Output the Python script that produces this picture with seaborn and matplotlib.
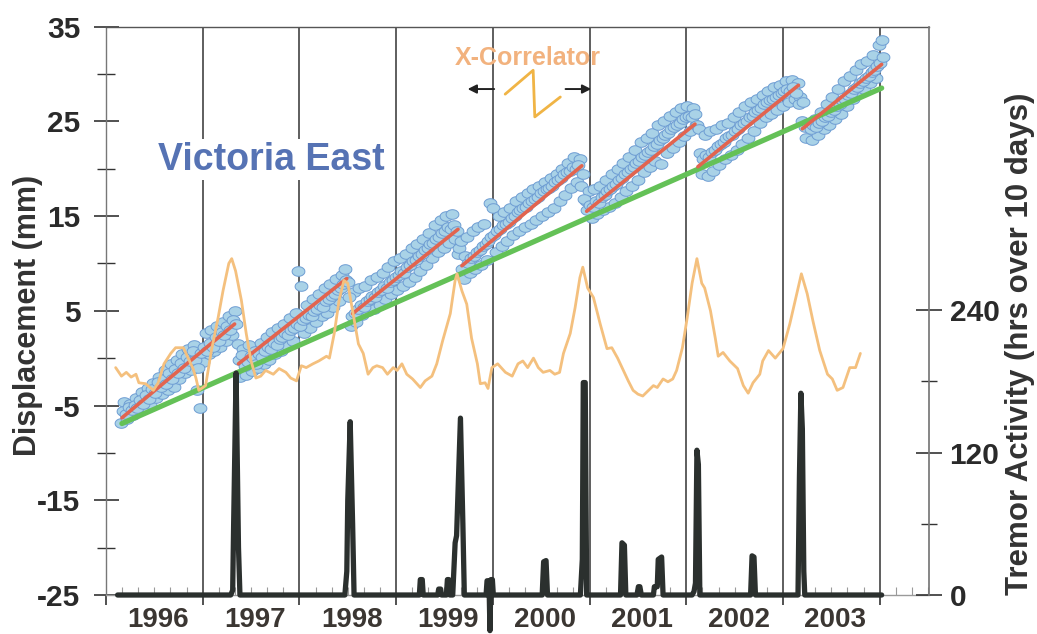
import numpy as np
import pandas as pd
import seaborn as sns
import matplotlib.pyplot as plt
from matplotlib import font_manager
from matplotlib.ticker import FixedLocator, MultipleLocator

# GPS displacement (mm), one list per inter-event period, evenly sampled in time
gps_start = [1996.16, 1997.36, 1998.50, 1999.67, 2000.93, 2002.13, 2003.21]
gps_end = [1997.33, 1998.47, 1999.64, 2000.90, 2002.10, 2003.18, 2004.02]
# readings along the upper and lower edges of the band
gps_values = [
    [-6.8, -4.6, -6.4, -4.8, -6.0, -4.2, -5.6, -3.6, -5.2, -3.2,
     -4.8, -2.6, -4.2, -2.0, -3.8, -1.2, -3.4, -0.6, -3.0, -0.2,
     -2.2, 0.4, -1.6, 1.0, -1.2, 1.4, -3.4, -5.3, -0.4, 2.6,
     0.4, 3.0, 0.8, 3.4, 1.2, 3.8, 1.8, 4.4, 2.4, 5.0],
    [1.5, -2.0, 1.0, -1.8, 1.4, -1.4, 0.8, -1.0, 1.6, -0.6,
     2.2, -0.2, 2.8, 0.4, 3.2, 0.8, 3.6, 1.4, 4.2, 1.8,
     4.8, 9.2, 7.6, 2.6, 5.6, 3.2, 6.2, 3.8, 6.8, 4.4,
     7.4, 4.8, 7.8, 5.4, 8.4, 6.0, 8.8, 9.4],
    [8.0, 3.4, 7.0, 3.8, 7.4, 4.6, 7.6, 5.0, 8.2, 5.2,
     8.6, 5.6, 9.0, 6.2, 9.6, 6.8, 10.2, 7.2, 10.6, 7.6,
     11.0, 8.0, 11.6, 8.6, 12.0, 9.2, 12.6, 9.8, 13.2, 10.6,
     14.0, 11.2, 14.6, 11.6, 15.0, 12.2, 15.2, 12.6, 11.0],
    [12.4, 8.4, 12.8, 9.0, 13.4, 9.4, 13.8, 9.8, 14.2, 10.4,
     16.4, 15.8, 11.2, 15.0, 11.8, 15.4, 12.4, 15.8, 13.0, 16.6,
     13.4, 17.0, 13.8, 17.4, 14.2, 17.8, 14.6, 18.2, 15.0, 18.6,
     15.4, 19.0, 15.8, 19.4, 16.6, 20.0, 17.2, 20.6, 18.0, 21.2, 18.6, 21.0],
    [19.4, 16.6, 17.6, 14.8, 17.8, 15.2, 18.2, 15.6, 18.8, 16.0,
     19.4, 16.4, 20.0, 17.0, 20.6, 17.6, 21.2, 18.2, 22.0, 18.8,
     22.8, 19.6, 23.2, 20.2, 23.8, 20.8, 24.6, 20.5, 25.0, 21.6,
     25.6, 22.2, 26.0, 22.8, 26.4, 23.4, 26.6, 24.0, 26.4, 24.6],
    [24.2, 19.4, 23.6, 19.2, 24.0, 19.8, 24.2, 20.4, 24.6, 21.0,
     24.8, 21.4, 25.4, 22.0, 26.0, 22.6, 26.6, 23.2, 27.0, 24.0,
     27.4, 24.8, 27.8, 25.4, 28.2, 25.8, 28.6, 26.2, 28.8, 26.6,
     29.2, 27.0, 29.4, 27.4, 29.0, 27.6],
    [27.0, 23.2, 24.8, 23.0, 25.2, 23.6, 26.0, 24.2, 26.8, 24.6,
     27.6, 25.2, 28.4, 25.8, 29.2, 26.6, 29.8, 27.4, 30.4, 28.0,
     31.0, 28.4, 31.4, 29.0, 32.0, 29.6, 33.0, 33.6],
]
# second pass of readings through the middle of the band (sampled half a step later)
gps_values_mid = [
    [-5.6, -5.9, -5.2, -5.5, -4.9, -5.3, -4.4, -4.8, -3.9, -4.3,
     -3.3, -3.7, -2.5, -3.0, -2.2, -2.7, -1.6, -2.2, -1.1, -1.6,
     -0.5, -1.0, 0.1, -0.3, 0.7, -0.2, -1.0, 0.5, 1.2, 0.8,
     1.6, 1.2, 2.2, 1.8, 2.8, 2.4, 3.4, 3.0, 4.0, 3.6],
    [-0.2, 0.3, -0.8, -0.4, 0.2, 0.0, -0.6, 0.4, 0.1, 0.8,
     1.2, 1.0, 1.6, 1.4, 2.0, 2.2, 2.6, 2.4, 3.0, 3.2,
     3.6, 3.4, 4.0, 4.2, 4.6, 4.4, 5.0, 5.2, 5.6, 5.4,
     6.0, 6.2, 6.6, 6.8, 7.2, 7.4, 7.8, 8.2],
    [6.4, 4.4, 4.8, 5.2, 5.6, 5.4, 6.0, 6.2, 6.6, 6.4,
     7.0, 7.2, 7.6, 7.4, 8.0, 8.2, 8.6, 8.8, 9.2, 9.0,
     9.6, 9.8, 10.2, 10.4, 10.8, 11.0, 11.4, 11.6, 12.0, 12.2,
     12.6, 12.8, 13.2, 13.4, 13.8, 13.6, 14.0, 13.4, 11.6],
    [9.4, 10.8, 10.0, 10.6, 10.8, 11.2, 11.4, 11.8, 12.0, 12.4,
     12.8, 13.0, 13.4, 13.6, 14.0, 14.2, 14.4, 14.8, 15.0, 15.4,
     15.6, 15.8, 16.0, 16.4, 16.6, 16.8, 17.0, 17.4, 17.6, 17.8,
     18.0, 18.2, 18.6, 18.8, 19.0, 19.4, 19.6, 19.8, 20.2, 20.0, 20.4, 18.2],
    [16.8, 15.6, 16.2, 16.0, 16.6, 16.4, 17.0, 17.2, 17.6, 17.8,
     18.2, 18.4, 18.8, 19.0, 19.4, 19.6, 20.0, 20.2, 20.6, 20.8,
     21.2, 21.4, 21.8, 22.0, 22.4, 22.6, 23.0, 23.2, 23.6, 23.8,
     24.2, 24.4, 24.6, 24.8, 25.2, 25.4, 25.6, 25.4, 25.8, 24.6],
    [21.6, 21.0, 21.4, 21.2, 21.8, 22.0, 22.4, 22.6, 22.8, 23.2,
     23.4, 23.6, 24.0, 24.2, 24.6, 24.8, 25.0, 25.4, 25.6, 26.0,
     26.2, 26.4, 26.8, 27.0, 27.2, 27.4, 27.6, 27.8, 28.0, 28.2,
     28.4, 28.2, 28.6, 28.0, 26.8, 25.0],
    [24.4, 24.8, 24.2, 24.6, 24.4, 24.8, 25.0, 25.4, 25.6, 26.0,
     26.2, 26.6, 26.8, 27.2, 27.4, 27.8, 28.0, 28.4, 28.6, 29.0,
     29.2, 29.6, 29.8, 30.2, 30.4, 30.8, 31.2, 31.8],
]

# inter-event trend lines (red) and long-term trend (green)
red_start_yr = [1996.165, 1997.37, 1998.55, 1999.68, 2000.97, 2002.12, 2003.20]
red_start_mm = [-6.3, -0.6, 4.7, 9.75, 15.5, 20.2, 24.2]
red_end_yr = [1997.33, 1998.49, 1999.64, 2000.92, 2002.09, 2003.16, 2004.02]
red_end_mm = [3.6, 8.4, 13.6, 20.3, 24.7, 28.8, 31.0]
green_yr = [1996.165, 2004.02]
green_mm = [-6.9, 28.5]

# X-correlator curve (no own axis, read in displacement units)
xcor_yr = [1996.10, 1996.16, 1996.21, 1996.26, 1996.31, 1996.34, 1996.41, 1996.49, 1996.54, 1996.60,
           1996.67, 1996.72, 1996.80, 1996.85, 1996.90, 1996.93, 1996.96, 1997.03, 1997.09, 1997.16,
           1997.21, 1997.27, 1997.30, 1997.34, 1997.40, 1997.45, 1997.50, 1997.55, 1997.60, 1997.65,
           1997.73, 1997.79, 1997.86, 1997.91, 1997.97, 1998.02, 1998.07, 1998.14, 1998.20, 1998.28,
           1998.31, 1998.36, 1998.41, 1998.46, 1998.50, 1998.55, 1998.61, 1998.66, 1998.71, 1998.76,
           1998.80, 1998.86, 1998.91, 1998.97, 1999.01, 1999.06, 1999.11, 1999.17, 1999.25, 1999.30,
           1999.37, 1999.42, 1999.48, 1999.56, 1999.61, 1999.63, 1999.68, 1999.73, 1999.78, 1999.84,
           1999.87, 1999.92, 1999.95, 1999.99, 2000.05, 2000.13, 2000.20, 2000.26, 2000.31, 2000.36,
           2000.42, 2000.47, 2000.52, 2000.59, 2000.64, 2000.69, 2000.73, 2000.80, 2000.85, 2000.90,
           2000.93, 2000.98, 2001.04, 2001.11, 2001.18, 2001.23, 2001.29, 2001.35, 2001.40, 2001.45,
           2001.50, 2001.55, 2001.61, 2001.66, 2001.70, 2001.76, 2001.81, 2001.86, 2001.90, 2001.96,
           2002.01, 2002.06, 2002.11, 2002.16, 2002.19, 2002.25, 2002.30, 2002.33, 2002.38, 2002.45,
           2002.53, 2002.59, 2002.64, 2002.69, 2002.76, 2002.79, 2002.85, 2002.92, 2003.00, 2003.07,
           2003.15, 2003.19, 2003.25, 2003.31, 2003.38, 2003.46, 2003.51, 2003.56, 2003.62, 2003.69,
           2003.75, 2003.80]
xcor_mm = [-1.0, -1.9, -1.5, -2.0, -1.7, -2.6, -2.7, -3.4, -2.6, -0.6,
           0.5, 1.1, 1.1, 0.0, -1.1, -2.1, -3.4, -2.9, 0.8, 4.3,
           7.1, 10.0, 10.5, 9.2, 6.1, 2.6, -0.3, -2.1, -1.9, -1.3,
           -1.7, -1.1, -1.5, -2.1, -2.4, -0.8, -1.0, -0.6, -0.3, 0.2,
           0.0, 2.6, 6.1, 8.2, 7.9, 5.0, 1.5, 0.5, -1.7, -1.0,
           -0.8, -1.0, -1.7, -1.0, -1.3, -0.6, -1.7, -2.2, -3.1, -2.4,
           -1.9, -0.6, 1.8, 4.7, 8.2, 8.9, 7.1, 5.7, 2.1, -0.6,
           -2.7, -2.6, -3.2, -1.0, -0.6, -1.5, -1.9, -0.6, -0.3, -1.0,
           0.0, -1.0, -1.5, -1.3, -1.7, -1.5, 0.5, 2.6, 5.3, 8.5,
           9.6, 7.4, 6.4, 3.6, 1.0, 1.1, 0.0, -1.3, -2.4, -3.4,
           -3.8, -4.0, -3.4, -2.9, -3.1, -2.2, -2.5, -2.2, -1.3, 1.1,
           4.3, 7.9, 10.5, 7.9, 7.4, 5.0, 2.1, 0.2, 0.6, -0.3,
           -1.1, -2.9, -3.7, -2.6, -1.7, -0.3, 0.8, 0.0, 1.0, 3.6,
           7.1, 8.9, 6.8, 3.9, 0.8, -1.7, -2.2, -3.4, -3.1, -1.0,
           -1.0, 0.5]

# tremor activity (hrs over 10 days)
tremor_yr = [1996.12, 1997.29, 1997.31, 1997.32, 1997.345, 1997.37, 1997.385,
             1998.47, 1998.49, 1998.50, 1998.525, 1998.55, 1998.565,
             1999.24, 1999.25, 1999.27, 1999.28, 1999.43, 1999.44, 1999.46, 1999.47,
             1999.52, 1999.53, 1999.545, 1999.555, 1999.585, 1999.61, 1999.625, 1999.665, 1999.69, 1999.705,
             1999.93, 1999.94, 1999.96, 1999.97, 1999.98, 1999.995, 2000.005,
             2000.51, 2000.525, 2000.55, 2000.565,
             2000.905, 2000.925, 2000.935, 2000.955, 2000.97,
             2001.32, 2001.335, 2001.36, 2001.375, 2001.49, 2001.505, 2001.52, 2001.535,
             2001.66, 2001.67, 2001.70, 2001.71, 2001.745, 2001.76,
             2002.06, 2002.08, 2002.095, 2002.11, 2002.125, 2002.14,
             2002.665, 2002.68, 2002.70, 2002.715,
             2003.155, 2003.17, 2003.185, 2003.20, 2003.215, 2003.225, 2004.02]
tremor_hrs = [0, 0, 4, 60, 187, 40, 0,
              0, 20, 80, 146, 60, 0,
              0, 13, 13, 0, 0, 5, 5, 0,
              0, 13, 13, 0, 0, 44, 50, 149, 60, 0,
              0, 12, 12, -30, 13, 13, 0,
              0, 28, 29, 0,
              0, 30, 179, 179, 0,
              0, 44, 42, 0, 0, 7, 7, 0,
              0, 7, 7, 30, 32, 0,
              0, 3, 10, 122, 110, 0,
              0, 33, 32, 0,
              0, 100, 170, 140, 20, 0, 0]

year_labels = ['1996', '1997', '1998', '1999', '2000', '2001', '2002', '2003']

sns.set_theme(style='white')
plt.rcParams['font.family'] = ['Liberation Sans', 'DejaVu Sans']
plt.rcParams['font.weight'] = 'bold'
plt.rcParams['axes.unicode_minus'] = False

names = {f.name for f in font_manager.fontManager.ttflist}
narrow = 'Liberation Sans Narrow' in names
year_font = ['Liberation Sans Narrow', 'DejaVu Sans'] if narrow else ['Liberation Sans', 'DejaVu Sans']
year_size = 23 if narrow else 20

fig = plt.figure(figsize=(10.37, 6.34), dpi=100)
ax = fig.add_axes([0.1022, 0.0615, 0.7937, 0.8967])

frames = []
for s, e, v, vm in zip(gps_start, gps_end, gps_values, gps_values_mid):
    frames.append(pd.DataFrame({'year': np.linspace(s, e, len(v)), 'mm': v}))
    frames.append(pd.DataFrame({'year': np.linspace(s, e, len(vm)) + 0.015, 'mm': vm}))
gps = pd.concat(frames)
t = np.linspace(0, 2 * np.pi, 40)
ellipse = np.column_stack([np.cos(t), 0.75 * np.sin(t)])
sns.scatterplot(data=gps, x='year', y='mm', marker=ellipse, s=85, color='#a9d2e7',
                edgecolor='#6e9dd3', linewidth=0.7, zorder=2, ax=ax)

sns.lineplot(x=green_yr, y=green_mm, color='#64c157', lw=3.8, zorder=3, ax=ax)

red = pd.DataFrame({'year': red_start_yr + red_end_yr, 'mm': red_start_mm + red_end_mm,
                    'seg': list(range(7)) * 2})
sns.lineplot(data=red, x='year', y='mm', units='seg', estimator=None, sort=False,
             color='#e2644f', lw=2.6, zorder=4, ax=ax)

sns.lineplot(x=xcor_yr, y=xcor_mm, sort=False, estimator=None, color='#f4c07e',
             lw=2.0, zorder=5, ax=ax)

ax.set_xlim(1996.0, 2004.51)
ax.set_ylim(-25, 35)
ax.set_xlabel('')
ax.set_ylabel('')

ax.xaxis.set_major_locator(FixedLocator(list(range(1996, 2005))))
ax.xaxis.set_minor_locator(MultipleLocator(1 / 6))
ax.set_xticklabels([])
ax.tick_params(axis='x', which='major', direction='out', length=7.5, width=1.2,
               color='#333333', bottom=True)
ax.tick_params(axis='x', which='minor', direction='in', length=5.5, width=0.8,
               color='#9a9a9a', bottom=True)
ax.grid(axis='x', which='major', color='#333333', lw=1.1)
ax.grid(axis='y', visible=False)
ax.set_axisbelow(True)

ax.yaxis.set_major_locator(FixedLocator([-25, -15, -5, 5, 15, 25, 35]))
ax.yaxis.set_minor_locator(FixedLocator([-20, -10, 0, 10, 20, 30]))
ax.tick_params(axis='y', which='major', direction='inout', length=18, width=1.2,
               color='#333333', left=True, labelsize=21.5, pad=9.5, labelcolor='#2a2a2a')
ax.tick_params(axis='y', which='minor', direction='inout', length=13, width=1.0,
               color='#333333', left=True)

for side, col in [('left', '#777777'), ('top', '#555555'), ('bottom', '#9a9a9a')]:
    ax.spines[side].set_color(col)
    ax.spines[side].set_linewidth(1.0)
ax.spines['right'].set_visible(False)

for yr, lab in zip(range(1996, 2004), year_labels):
    ax.text(yr + 0.54, -0.044, lab, transform=ax.get_xaxis_transform(), ha='center', va='center',
            fontsize=year_size, family=year_font, fontweight='bold', color='#3b3632')

ax.text(0.063, 0.748, 'Victoria East', transform=ax.transAxes, fontsize=27, fontweight='bold',
        color='#5673b4', va='baseline', ha='left', zorder=6,
        bbox=dict(facecolor='white', edgecolor='none', pad=2))
ax.text(0.513, 0.932, 'X-Correlator', transform=ax.transAxes, fontsize=18, fontweight='bold',
        color='#f2b27e', va='baseline', ha='center', zorder=6)
ax.annotate('', xy=(0.436, 0.890), xytext=(0.475, 0.890), xycoords='axes fraction',
            arrowprops=dict(arrowstyle='-|>', color='#222222', lw=1.4, mutation_scale=13))
ax.annotate('', xy=(0.593, 0.890), xytext=(0.555, 0.890), xycoords='axes fraction',
            arrowprops=dict(arrowstyle='-|>', color='#222222', lw=1.4, mutation_scale=13))
ax.plot([0.485, 0.519, 0.521, 0.552], [0.881, 0.923, 0.841, 0.876], transform=ax.transAxes,
        color='#f0b445', lw=2.0)

ax2 = ax.twinx()
sns.lineplot(x=tremor_yr, y=tremor_hrs, sort=False, estimator=None, color='#2b302e',
             lw=3.8, ax=ax2, clip_on=False)
ax2.set_ylim(0, 479)
ax2.set_xlim(1996.0, 2004.51)
ax2.set_ylabel('')
ax2.yaxis.set_major_locator(FixedLocator([0, 120, 240]))
ax2.yaxis.set_minor_locator(FixedLocator([60, 180]))
ax2.tick_params(axis='y', which='major', direction='inout', length=18.5, width=1.2,
                color='#333333', right=True, labelsize=21.5, pad=5.5, labelcolor='#2a2a2a')
ax2.tick_params(axis='y', which='minor', direction='inout', length=12, width=1.0,
                color='#333333', right=True)
for side in ['left', 'top', 'bottom']:
    ax2.spines[side].set_visible(False)
ax2.spines['right'].set_color('#777777')
ax2.grid(False)

fig.text(0.027, 0.503, 'Displacement (mm)', rotation=90, ha='center', va='center',
         fontsize=22, fontweight='bold', color='#333333')
fig.text(0.984, 0.457, 'Tremor Activity (hrs over 10 days)', rotation=90, ha='center',
         va='center', fontsize=22.5, fontweight='bold', color='#333333')

fig.savefig('out.png', dpi=100)
